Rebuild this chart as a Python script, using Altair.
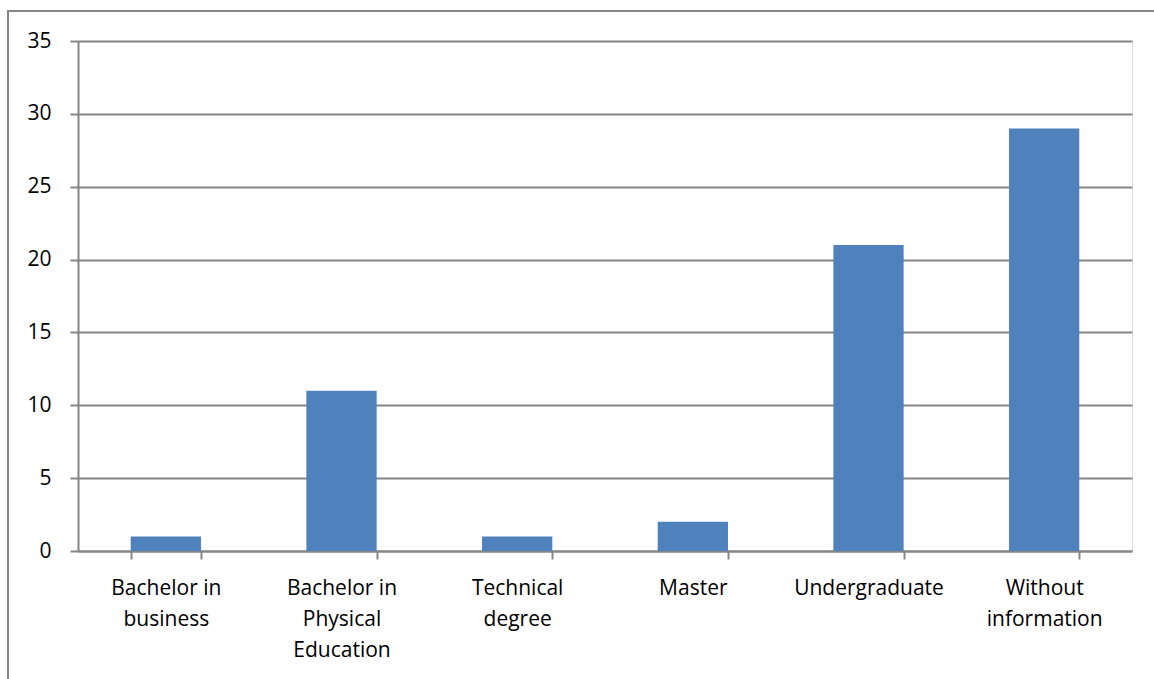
import altair as alt
import pandas as pd

categories = ["Bachelor in|business", "Bachelor in|Physical|Education", "Technical|degree",
              "Master", "Undergraduate", "Without|information"]
values = [1, 11, 1, 2, 21, 29]

df = pd.DataFrame({"cat": categories, "val": values})

FONT = "Open Sans"
GRAY = "#868686"

bars = alt.Chart(df).mark_bar(color="#4F81BD").encode(
    x=alt.X("cat:N", sort=categories, title=None,
            scale=alt.Scale(paddingInner=0.6, paddingOuter=0.3),
            axis=alt.Axis(labelAngle=0,
                          labelExpr="isValid(datum.value) ? split(datum.value, '|') : ''",
                          labelFont=FONT, labelFontSize=21, labelColor="#000000",
                          labelLineHeight=31, labelPadding=18, labelBaseline="top",
                          tickBand="extent", tickSize=8, tickWidth=2, tickColor=GRAY,
                          domainColor=GRAY, domainWidth=2, grid=False)),
    y=alt.Y("val:Q", title=None,
            scale=alt.Scale(domain=[0, 35], nice=False),
            axis=alt.Axis(values=[0, 5, 10, 15, 20, 25, 30, 35],
                          labelFont=FONT, labelFontSize=21, labelColor="#000000",
                          labelPadding=19, tickSize=8, tickWidth=2, tickColor=GRAY,
                          domainColor=GRAY, domainWidth=2,
                          grid=True, gridColor=GRAY, gridWidth=2)),
)

frame = alt.Chart(df).mark_rect(fill=None, stroke=GRAY, strokeWidth=2, clip=False).encode(
    x=alt.value(-70), y=alt.value(-30), x2=alt.value(1200), y2=alt.value(700)
)

chart = alt.layer(frame, bars).properties(
    width=1054, height=510,
    padding={"left": 78, "top": 41, "right": 22, "bottom": 128},
    autosize=alt.AutoSizeParams(type="none"),
).configure_view(stroke=None).configure(background="white")

chart.save("out.html", embed_options={"renderer": "svg", "actions": False})
